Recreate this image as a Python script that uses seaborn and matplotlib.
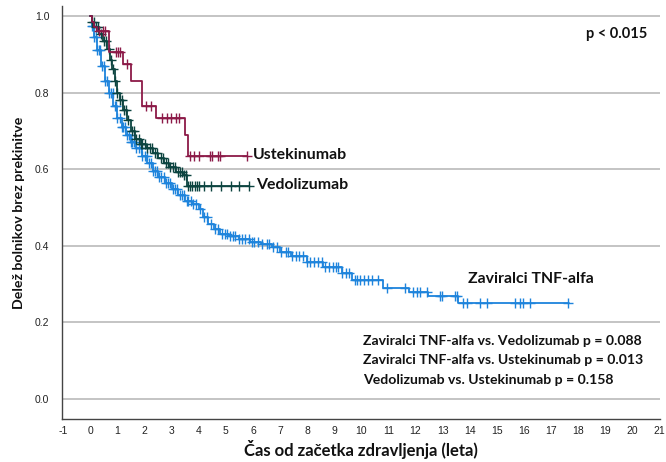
import numpy as np
import pandas as pd
import matplotlib
matplotlib.use("Agg")
import matplotlib.pyplot as plt
import seaborn as sns

# Kaplan-Meier step curves: time (years) and survival after each step
tnf_times = [0, 0.05, 0.15, 0.25, 0.4, 0.55, 0.7, 0.85, 1.0, 1.15, 1.3, 1.5, 1.7, 1.9,
             2.1, 2.3, 2.5, 2.75, 3.0, 3.25, 3.5, 3.75, 4.0, 4.15, 4.35, 4.55, 4.8,
             5.1, 5.5, 5.9, 6.3, 6.7, 7.0, 7.4, 8.0, 8.6, 9.3, 9.65, 10.8, 11.75,
             12.45, 13.55, 17.65]
tnf_surv = [1.0, 0.975, 0.945, 0.91, 0.87, 0.83, 0.80, 0.765, 0.735, 0.71, 0.69, 0.672,
            0.655, 0.635, 0.615, 0.595, 0.58, 0.565, 0.548, 0.533, 0.518, 0.508, 0.497,
            0.475, 0.458, 0.443, 0.432, 0.425, 0.418, 0.41, 0.405, 0.396, 0.385,
            0.373, 0.358, 0.345, 0.33, 0.312, 0.29, 0.28, 0.268, 0.25, 0.25]
tnf_cens = [0.05, 0.1, 0.15, 0.2, 0.25, 0.3, 0.35, 0.42, 0.5, 0.55, 0.62, 0.7, 0.75,
            0.82, 0.9, 0.95, 1.0, 1.08, 1.15, 1.2, 1.28, 1.35, 1.42, 1.5, 1.55, 1.62,
            1.7, 1.78, 1.85, 1.92, 2.0, 2.08, 2.15, 2.22, 2.3, 2.38, 2.45, 2.55, 2.62,
            2.7, 2.8, 2.88, 2.95, 3.05, 3.12, 3.2, 3.3, 3.38, 3.45, 3.55, 3.62, 3.7,
            3.8, 3.9, 4.05, 4.2, 4.3, 4.45, 4.6, 4.7, 4.85, 4.95, 5.05, 5.15, 5.25,
            5.35, 5.5, 5.6, 5.7, 5.85, 5.95, 6.05, 6.2, 6.35, 6.5, 6.6, 6.75, 6.9,
            7.05, 7.2, 7.3, 7.45, 7.6, 7.7, 7.85, 8.0, 8.1, 8.25, 8.4, 8.55, 8.65,
            8.8, 8.95, 9.05, 9.15, 9.3, 9.45, 9.55, 9.75, 9.85, 9.95, 10.1, 10.25,
            10.4, 10.6, 10.95, 11.6, 11.9, 12.05, 12.15, 12.42, 12.9, 12.97, 13.45,
            13.53, 13.76, 13.9, 14.38, 14.64, 15.67, 15.86, 15.97, 16.23, 17.64]

ved_times = [0, 0.05, 0.15, 0.3, 0.45, 0.6, 0.72, 0.8, 0.9, 0.98, 1.08, 1.2, 1.35,
             1.5, 1.65, 1.85, 2.05, 2.3, 2.5, 2.7, 2.9, 3.15, 3.4, 3.57, 5.85]
ved_surv = [1.0, 0.985, 0.97, 0.953, 0.935, 0.914, 0.885, 0.862, 0.83, 0.80, 0.78,
            0.755, 0.728, 0.70, 0.678, 0.665, 0.655, 0.642, 0.63, 0.615, 0.605,
            0.594, 0.586, 0.557, 0.557]
ved_cens = [0.05, 0.12, 0.2, 0.28, 0.38, 0.5, 0.58, 0.68, 0.75, 0.85, 0.92, 1.0, 1.1,
            1.15, 1.25, 1.32, 1.4, 1.55, 1.62, 1.7, 1.78, 1.85, 1.92, 2.0, 2.1, 2.2,
            2.28, 2.38, 2.45, 2.6, 2.68, 2.78, 2.85, 2.95, 3.05, 3.12, 3.22, 3.3,
            3.38, 3.45, 3.52, 3.62, 3.69, 3.76, 3.85, 3.92, 4.0, 4.2, 4.46, 4.83,
            5.2, 5.5, 5.85]

ust_times = [0, 0.05, 0.15, 0.25, 0.68, 1.2, 1.5, 1.92, 2.42, 3.48, 3.6, 5.78]
ust_surv = [1.0, 0.985, 0.97, 0.96, 0.905, 0.874, 0.83, 0.764, 0.734, 0.689, 0.635,
            0.635]
ust_cens = [0.3, 0.45, 0.55, 0.95, 1.02, 1.1, 1.35, 2.05, 2.24, 2.65, 2.83, 2.98,
            3.16, 3.28, 3.69, 3.84, 4.0, 4.4, 4.47, 4.7, 4.78, 5.78]

groups = ["Zaviralci TNF-alfa", "Vedolizumab", "Ustekinumab"]
colors = ["#1e84dc", "#0c4440", "#8c1a48"]

x_ticks = list(range(-1, 22))
y_ticks = [0.0, 0.2, 0.4, 0.6, 0.8, 1.0]

pairwise_text = ["Zaviralci TNF-alfa vs. Vedolizumab p = 0.088",
                 "Zaviralci TNF-alfa vs. Ustekinumab p = 0.013",
                 "Vedolizumab vs. Ustekinumab p = 0.158"]
overall_text = "p < 0.015"

sns.set_theme(style="white")
plt.rcParams["font.family"] = ["Lato", "DejaVu Sans"]

fig = plt.figure(figsize=(6.66, 4.62), dpi=100)
ax = fig.add_axes([0.093, 0.093, 0.898, 0.894])


def step_frame(times, surv, name):
    return pd.DataFrame({"t": times, "s": surv, "g": name})


def censor_frame(times, surv, cens, name):
    t = np.asarray(times)
    s = np.asarray(surv)
    idx = np.searchsorted(t, np.asarray(cens), side="right") - 1
    return pd.DataFrame({"t": cens, "s": s[idx], "g": name})


series = [(tnf_times, tnf_surv, tnf_cens), (ved_times, ved_surv, ved_cens),
          (ust_times, ust_surv, ust_cens)]

for (tt, ss, cc), name, col in zip(series, groups, colors):
    sns.lineplot(data=step_frame(tt, ss, name), x="t", y="s", ax=ax, color=col,
                 estimator=None, sort=False, drawstyle="steps-post", linewidth=1.3,
                 zorder=3)
    cf = censor_frame(tt, ss, cc, name)
    ax.plot(cf["t"], cf["s"], linestyle="none", marker="+", markersize=6.5,
            markeredgewidth=1.0, color=col, zorder=3)

ax.set_xlim(-1.05, 21.02)
ax.set_ylim(-0.052, 1.026)
ax.set_xticks(x_ticks)
ax.set_yticks(y_ticks)
ax.set_xticklabels([str(v) for v in x_ticks], fontsize=7.5, color="#222222",
                   family="Liberation Sans")
ax.set_yticklabels([f"{v:.1f}" for v in y_ticks], fontsize=7.5, color="#222222",
                   family="Liberation Sans")
ax.tick_params(axis="both", length=0)
ax.tick_params(axis="y", pad=9)
ax.tick_params(axis="x", pad=5)

ax.grid(axis="y", color="#c4c4c4", linewidth=1.4)
ax.set_axisbelow(True)
for side in ["top", "right"]:
    ax.spines[side].set_visible(False)
for side in ["left", "bottom"]:
    ax.spines[side].set_color("#444444")
    ax.spines[side].set_linewidth(1.0)

ax.set_xlabel("Čas od začetka zdravljenja (leta)", fontsize=12, fontweight="bold",
              color="#111111", labelpad=3)
ax.set_ylabel("Delež bolnikov brez prekinitve", fontsize=10.2, fontweight="bold",
              color="#111111", labelpad=7)

lbl_kw = dict(fontsize=11.4, fontweight="bold", color="#111111", va="center")
ax.text(5.98, 0.636, "Ustekinumab", **lbl_kw)
ax.text(6.12, 0.558, "Vedolizumab", **lbl_kw)
ax.text(13.93, 0.314, "Zaviralci TNF-alfa", **lbl_kw)
ax.text(18.3, 0.953, overall_text, fontsize=10.5, fontweight="bold",
        color="#111111", va="center")
for i, line in enumerate(pairwise_text):
    ax.text(10.05, 0.152 - i * 0.051, line, fontsize=10.1, fontweight="bold",
            color="#111111", va="center")

fig.savefig("out.png", dpi=100)
